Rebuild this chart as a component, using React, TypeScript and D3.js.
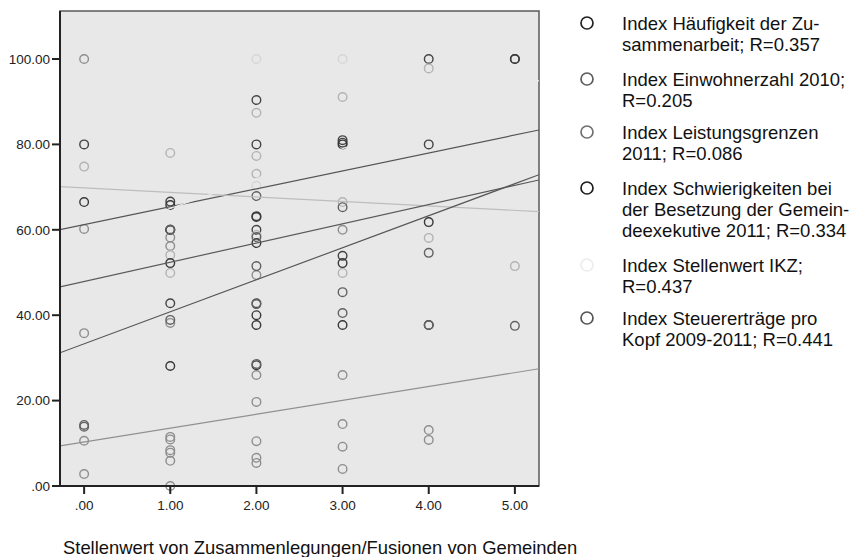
import React from "react";
import * as d3 from "d3";

// x categories and y ticks
const xTickValues = [0, 1, 2, 3, 4, 5];
const yTickValues = [0, 20, 40, 60, 80, 100];

// Series labels (wrapped as in the legend)
const seriesLabels: string[][] = [
  ["Index Häufigkeit der Zu-", "sammenarbeit; R=0.357"],
  ["Index Einwohnerzahl 2010;", "R=0.205"],
  ["Index Leistungsgrenzen", "2011; R=0.086"],
  ["Index Schwierigkeiten bei", "der Besetzung der Gemein-", "deexekutive 2011; R=0.334"],
  ["Index Stellenwert IKZ;", "R=0.437"],
  ["Index Steuererträge pro", "Kopf 2009-2011; R=0.441"],
];

// Observations per series: [Stellenwert Zusammenlegungen, index value]
const haeufigkeit: [number, number][] = [
  [0, 80], [1, 66.6], [1, 60], [1, 42.8], [2, 90.4], [2, 80], [2, 63.2], [2, 60], [2, 42.8],
  [3, 81], [3, 80.4], [3, 53.9], [4, 100], [4, 80], [5, 100],
];
const einwohnerzahl: [number, number][] = [
  [0, 100], [0, 60.2], [0, 35.8], [0, 10.6], [0, 2.8],
  [1, 58.2], [1, 56.2], [1, 38.2], [1, 11.5], [1, 10.9], [1, 8.4], [1, 7.8], [1, 5.9], [1, 0],
  [2, 49.4], [2, 26], [2, 19.7], [2, 10.5], [2, 6.6], [2, 5.4],
  [3, 60], [3, 26], [3, 14.5], [3, 9.2], [3, 4], [4, 13.1], [4, 10.8],
];
const leistungsgrenzen: [number, number][] = [
  [0, 74.8], [1, 78], [1, 54.1], [1, 49.9], [2, 87.4], [2, 77.3], [2, 73.1], [2, 58.8],
  [3, 91.1], [3, 66.5], [3, 49.9], [4, 97.8], [4, 58.1], [5, 51.5],
];
const schwierigkeiten: [number, number][] = [
  [0, 66.5], [1, 65.8], [1, 60], [1, 52.2], [1, 28.1], [2, 63], [2, 56.9], [2, 40], [2, 37.7], [2, 28.3],
  [3, 80], [3, 52.2], [3, 37.7], [4, 61.8], [4, 37.7], [5, 100],
];
const stellenwertIkz: [number, number][] = [
  [2, 100], [2, 70.3], [3, 100],
];
const steuerertraege: [number, number][] = [
  [0, 13.9], [0, 14.3], [1, 60], [1, 38.9], [2, 67.9], [2, 58.3], [2, 51.5], [2, 42.6], [2, 28.6],
  [3, 65.3], [3, 45.4], [3, 40.5], [4, 54.6], [4, 37.7], [5, 37.5],
];

const seriesData = [haeufigkeit, einwohnerzahl, leistungsgrenzen, schwierigkeiten, stellenwertIkz, steuerertraege];

// Linear fit per series: value = intercept + slope * x
const fitIntercepts = [61.2, 10.3, 69.8, 47.9, 58, 33.3];
const fitSlopes = [4.2, 3.25, -1.05, 4.5, 7, 7.5];

// Styles
const markerColors = ["#444444", "#8e8e8e", "#b3b3b3", "#383838", "#d6d6d6", "#626262"];
const lineColors = ["#555555", "#909090", "#bdbdbd", "#5a5a5a", "#e9e9e9", "#575757"];
const legendColors = ["#222222", "#5c5c5c", "#707070", "#1e1e1e", "#ececec", "#555555"];

const FONT = "'Liberation Sans', Arial, Helvetica, sans-serif";
const W = 854;
const H = 557;
const plot = { left: 60, right: 539, top: 11, bottom: 486 };

export default function App() {
  const x = d3.scaleLinear().domain([-0.28, 5.28]).range([plot.left, plot.right]);
  const y = d3.scaleLinear().domain([0, 111.24]).range([plot.bottom, plot.top]);
  const fmt = (v: number) => (v === 0 ? ".00" : v.toFixed(2));
  const fitLine = d3
    .line<[number, number]>()
    .x((d) => x(d[0]))
    .y((d) => y(d[1]));

  const legendTops = [23, 79, 132, 188, 265, 318];
  const legendLineHeight = 21;

  return (
    <svg
      width={W}
      height={H}
      style={{ position: "absolute", left: 0, top: 0, background: "#fff" }}
      fontFamily={FONT}
    >
      <defs>
        <clipPath id="plotClip">
          <rect x={plot.left} y={plot.top} width={plot.right - plot.left} height={plot.bottom - plot.top} />
        </clipPath>
      </defs>
      <rect
        x={plot.left}
        y={plot.top}
        width={plot.right - plot.left}
        height={plot.bottom - plot.top}
        fill="#e8e8e8"
        stroke="#5a5a5a"
        strokeWidth={1.5}
      />

      {/* scatter markers */}
      {seriesData.map((pts, si) => (
        <g key={`pts-${si}`}>
          {pts.map(([xv, yv], i) => (
            <circle
              key={i}
              cx={x(xv)}
              cy={y(yv)}
              r={4.3}
              fill="none"
              stroke={markerColors[si]}
              strokeWidth={1.4}
            />
          ))}
        </g>
      ))}

      {/* fit lines */}
      <g clipPath="url(#plotClip)">
        {fitIntercepts.map((b, si) => {
          const dom = x.domain();
          const path = fitLine(dom.map((xv) => [xv, b + fitSlopes[si] * xv] as [number, number]));
          return (
            <path key={`fit-${si}`} d={path || ""} fill="none" stroke={lineColors[si]} strokeWidth={1.2} />
          );
        })}
      </g>

      {/* axes */}
      <line x1={plot.left} x2={plot.left} y1={plot.top} y2={plot.bottom} stroke="#222" strokeWidth={2} />
      <line x1={plot.left} x2={plot.right} y1={plot.bottom} y2={plot.bottom} stroke="#222" strokeWidth={2} />
      {yTickValues.map((t) => (
        <g key={`yt-${t}`}>
          <line x1={plot.left - 8} x2={plot.left} y1={y(t)} y2={y(t)} stroke="#222" strokeWidth={2} />
          <text x={plot.left - 10} y={y(t)} dy="0.36em" textAnchor="end" fontSize={13.5} fill="#222">
            {fmt(t)}
          </text>
        </g>
      ))}
      {xTickValues.map((t) => (
        <g key={`xt-${t}`}>
          <line x1={x(t)} x2={x(t)} y1={plot.bottom} y2={plot.bottom + 8} stroke="#222" strokeWidth={2} />
          <text x={x(t)} y={510} textAnchor="middle" fontSize={13.5} fill="#222">
            {fmt(t)}
          </text>
        </g>
      ))}
      <text x={63} y={554} fontSize={18.4} fill="#111">
        Stellenwert von Zusammenlegungen/Fusionen von Gemeinden
      </text>

      {/* legend */}
      {seriesLabels.map((lines, si) => (
        <g key={`lg-${si}`}>
          <circle cx={587} cy={legendTops[si]} r={6} fill="none" stroke={legendColors[si]} strokeWidth={1.7} />
          {lines.map((ln, li) => (
            <text
              key={li}
              x={622}
              y={legendTops[si] + li * legendLineHeight}
              dy="0.36em"
              fontSize={18.5}
              fill="#111"
            >
              {ln}
            </text>
          ))}
        </g>
      ))}
    </svg>
  );
}
